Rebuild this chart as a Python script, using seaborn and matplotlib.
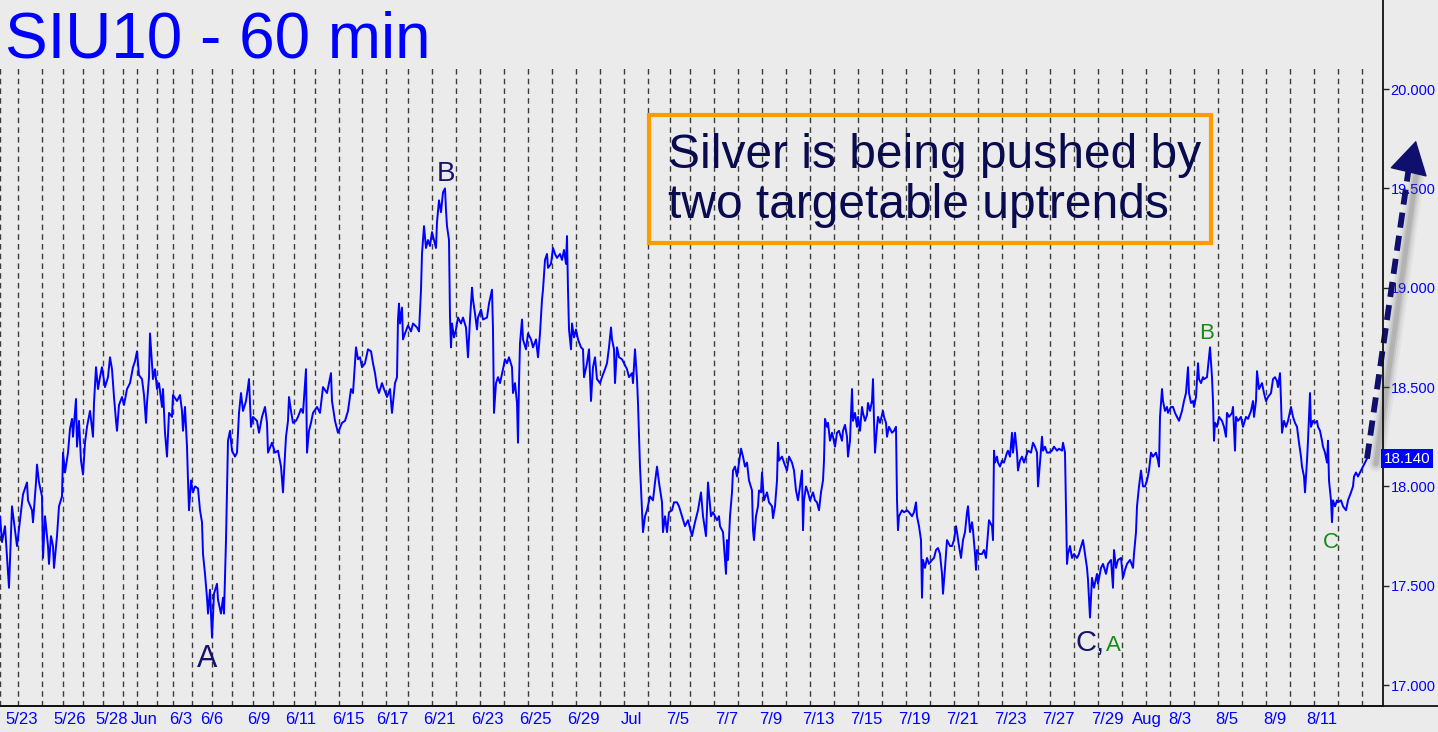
import numpy as np
import pandas as pd
import matplotlib
matplotlib.use("Agg")
import matplotlib.pyplot as plt
import matplotlib.transforms as mtransforms
from matplotlib.lines import Line2D
from matplotlib.patches import Rectangle
import seaborn as sns

# hourly bars: (bar slot on the time axis, price)
bars_may_jun = [(0,17.85),(2,17.72),(5,17.80),(9,17.49),(12,17.90),(17,17.70),(20,17.83),(23,17.96),(27,18.02),(28,17.93),
    (32,17.88),(33,17.82),(36,18.02),(37,18.11),(39,18.02),(42,17.95),(43,17.64),(45,17.85),(48,17.70),(49,17.61),
    (51,17.75),(53,17.70),(54,17.59),(57,17.75),(59,17.90),(62,17.95),(63,18.17),(65,18.07),(68,18.17),(70,18.29),
    (72,18.34),(73,18.25),(76,18.44),(77,18.20),(79,18.33),(81,18.13),(83,18.06),(85,18.22),(87,18.30),(90,18.38),
    (93,18.25),(94,18.42),(96,18.60),(98,18.49),(100,18.55),(102,18.60),(105,18.50),(108,18.55),(110,18.65),(112,18.59),
    (114,18.45),(116,18.33),(117,18.28),(119,18.41),(122,18.45),(124,18.41),(127,18.49),(130,18.52),(133,18.60),(135,18.63),
    (137,18.68),(139,18.56),(142,18.54),(144,18.46),(146,18.32),(147,18.42),(149,18.55),(150,18.77),(152,18.62),(153,18.54),
    (155,18.59),(157,18.49),(159,18.52),(162,18.40),(163,18.49),(165,18.27),(167,18.15),(169,18.37),(172,18.35),(173,18.46),
    (177,18.43),(180,18.46),(182,18.38),(183,18.28),(185,18.40),(187,18.20),(188,18.03),(189,17.88),(191,18.03),(193,17.97),
    (195,18.00),(198,17.99),(200,17.88),(202,17.82),(203,17.66),(205,17.56),(207,17.44),(208,17.36),(210,17.48),(212,17.24),
    (214,17.46),(217,17.51),(218,17.43),(221,17.36),(223,17.44),(224,17.36),(226,17.73),(227,17.98),(228,18.23),(230,18.28),
    (232,18.18),(235,18.15),(237,18.17),(239,18.37),(241,18.47),(243,18.38),(246,18.43),(248,18.50),(249,18.54),(251,18.30),
    (253,18.35),(257,18.33),(259,18.27),(262,18.35),(265,18.40),(267,18.32),(268,18.17),(272,18.22),(275,18.17),(278,18.18),
    (281,18.10),(283,17.97),(284,18.07),(286,18.25),(288,18.33),(289,18.45),(291,18.38),(293,18.32),(296,18.33),(298,18.35),
    (301,18.39),(303,18.37),(306,18.59),(307,18.17),(309,18.28),(311,18.32),(313,18.37),(317,18.40),(320,18.37),(323,18.50),
    (327,18.47),(331,18.57),(332,18.43),(335,18.33),(338,18.27),(342,18.32),(345,18.33),(348,18.38),(351,18.49),(353,18.47),
    (356,18.70),(358,18.64),(360,18.65)]

bars_jun_jul = [(362,18.60),(365,18.62),(368,18.69),(371,18.68),(373,18.62),(375,18.57),(377,18.50),(379,18.47),(382,18.52),
    (384,18.49),(387,18.45),(390,18.49),(392,18.37),(395,18.52),(397,18.55),(398,18.84),(399,18.92),(400,18.82),(402,18.90),
    (403,18.74),(405,18.77),(408,18.81),(411,18.78),(413,18.82),(417,18.80),(419,18.78),(421,18.99),(422,19.17),(424,19.31),
    (426,19.20),(428,19.24),(430,19.21),(432,19.28),(433,19.26),(436,19.20),(437,19.33),(439,19.44),(441,19.38),(443,19.48),
    (445,19.50),(446,19.39),(447,19.31),(449,19.24),(450,18.85),(451,18.70),(452,18.82),(454,18.75),(456,18.79),(458,18.85),
    (461,18.82),(463,18.85),(466,18.80),(468,18.65),(470,18.84),(472,19.00),(473,18.94),(475,18.87),(477,18.79),(478,18.85),
    (481,18.89),(483,18.84),(487,18.85),(489,18.92),(492,18.99),(493,18.79),(494,18.37),(496,18.52),(498,18.55),(500,18.52),
    (503,18.59),(505,18.64),(507,18.62),(509,18.65),(512,18.60),(513,18.47),(515,18.52),(517,18.42),(518,18.22),(519,18.52),
    (520,18.72),(522,18.84),(523,18.74),(526,18.69),(528,18.77),(531,18.74),(533,18.70),(536,18.74),(538,18.65),(540,18.77),
    (542,18.94),(543,18.99),(545,19.14),(547,19.17),(548,19.10),(551,19.12),(553,19.20),(555,19.17),(557,19.15),(560,19.17),
    (562,19.14),(564,19.19),(566,19.12),(567,19.26),(568,18.99),(569,18.79),(571,18.69),(572,18.82),(574,18.75),(576,18.79),
    (578,18.74),(581,18.70),(583,18.69),(584,18.55),(587,18.62),(589,18.69),(591,18.43),(593,18.60),(595,18.65),(597,18.54),
    (600,18.52),(602,18.55),(605,18.59),(607,18.62),(609,18.70),(611,18.80),(612,18.74),(614,18.69),(615,18.52),(617,18.70),
    (619,18.65),(622,18.64),(624,18.62),(627,18.59),(629,18.55),(632,18.57),(633,18.52),(635,18.69),(637,18.54),(638,18.42),
    (640,18.10),(642,17.88),(643,17.77),(645,17.85),(647,17.88),(650,17.95),(653,17.93),(655,18.02),(657,18.10),(659,18.02),
    (662,17.92),(663,17.77),(665,17.85),(667,17.77),(669,17.87),(672,17.88),(674,17.92),(677,17.92),(679,17.90),(682,17.85),
    (685,17.80),(688,17.83),(692,17.75),(695,17.82),(698,17.88),(701,17.97),(703,17.85),(706,17.75),(708,18.02),(711,17.85),
    (713,17.87),(717,17.83),(719,17.85)]

bars_jul = [(720,17.80),(723,17.77),(725,17.63),(726,17.56),(727,17.73),(728,17.63),(730,17.85),(732,17.97),(733,18.08),
    (735,18.10),(737,18.05),(739,18.12),(741,18.19),(743,18.15),(745,18.10),(747,18.12),(749,18.03),(752,17.98),(753,17.78),
    (754,17.73),(756,17.85),(758,17.90),(759,17.98),(761,17.97),(762,18.07),(764,17.93),(767,17.97),(769,17.92),(772,17.90),
    (773,17.84),(775,17.90),(777,18.03),(778,18.22),(779,18.13),(782,18.15),(784,18.12),(787,18.08),(789,18.15),(792,18.12),
    (794,18.08),(796,17.98),(798,17.93),(800,18.00),(802,18.08),(803,17.78),(804,17.93),(806,18.00),(808,17.97),(810,17.93),
    (813,17.97),(815,17.93),(817,17.92),(819,17.88),(821,17.97),(823,18.03),(824,18.13),(825,18.34),(827,18.30),(828,18.32),
    (830,18.23),(832,18.27),(833,18.25),(835,18.20),(837,18.27),(839,18.28),(842,18.23),(843,18.28),(845,18.31),(847,18.25),
    (848,18.15),(850,18.23),(852,18.49),(853,18.33),(855,18.37),(857,18.30),(858,18.35),(860,18.28),(862,18.40),(863,18.37),
    (865,18.33),(867,18.36),(868,18.42),(870,18.38),(872,18.43),(873,18.54),(874,18.33),(875,18.17),(877,18.30),(878,18.35),
    (880,18.32),(883,18.38),(884,18.35),(886,18.32),(887,18.25),(889,18.30),(892,18.27),(894,18.28),(896,18.30),(897,17.93),
    (898,17.78),(899,17.85),(902,17.88),(904,17.87),(907,17.88),(909,17.87),(912,17.85),(914,17.87),(916,17.92),(917,17.85),
    (919,17.80),(921,17.73),(922,17.44),(923,17.63),(925,17.59),(927,17.64),(929,17.61),(932,17.63),(934,17.64),(936,17.68),
    (938,17.69),(940,17.66),(942,17.56),(943,17.46),(945,17.59),(947,17.73),(948,17.72),(950,17.70),(952,17.70),(954,17.73),
    (956,17.80),(957,17.77),(959,17.70),(961,17.64),(963,17.73),(965,17.77),(967,17.87),(968,17.90),(970,17.77),(972,17.82),
    (973,17.78),(975,17.66),(976,17.58),(977,17.68),(979,17.66),(982,17.66),(984,17.68),(986,17.64),(988,17.77),(989,17.83),
    (992,17.80),(993,17.73),(994,18.18),(995,18.12),(997,18.15),(998,18.12),(1000,18.10),(1002,18.13),(1004,18.12),(1007,18.17),
    (1008,18.18),(1010,18.15),(1012,18.27),(1013,18.17),(1015,18.27),(1017,18.17),(1018,18.08),(1020,18.13),(1022,18.15),
    (1024,18.12),(1026,18.15),(1028,18.18),(1031,18.17),(1033,18.22),(1035,18.20),(1037,18.17),(1038,18.00),(1040,18.12),
    (1042,18.25),(1043,18.18),(1045,18.20),(1047,18.17),(1049,18.17),(1052,18.18),(1054,18.20),(1057,18.18),(1059,18.19),
    (1062,18.18),(1063,18.22),(1065,18.17),(1066,17.90),(1067,17.61),(1068,17.66),(1070,17.70),(1072,17.64),(1074,17.66),
    (1077,17.64),(1079,17.66)]

bars_jul_aug = [(1080,17.68),(1083,17.73),(1085,17.66),(1087,17.59),(1088,17.53),(1090,17.34),(1092,17.54),(1094,17.49),
    (1097,17.56),(1098,17.51),(1101,17.59),(1103,17.61),(1106,17.56),(1108,17.61),(1111,17.63),(1113,17.49),(1114,17.68),
    (1116,17.59),(1118,17.63),(1121,17.64),(1123,17.54),(1125,17.58),(1127,17.61),(1130,17.63),(1133,17.59),(1134,17.66),
    (1136,17.77),(1137,17.90),(1139,18.00),(1141,18.08),(1143,18.00),(1145,18.00),(1147,18.03),(1149,18.08),(1151,18.17),
    (1153,18.15),(1156,18.17),(1158,18.13),(1159,18.10),(1160,18.35),(1162,18.49),(1163,18.43),(1165,18.38),(1167,18.40),
    (1168,18.37),(1171,18.40),(1173,18.40),(1175,18.37),(1177,18.35),(1179,18.33),(1182,18.38),(1184,18.43),(1186,18.47),
    (1188,18.60),(1189,18.47),(1191,18.42),(1193,18.43),(1194,18.40),(1196,18.45),(1198,18.62),(1199,18.54),(1201,18.52),
    (1203,18.55),(1204,18.54),(1207,18.55),(1208,18.60),(1210,18.70),(1212,18.55),(1213,18.43),(1214,18.23),(1215,18.32),
    (1217,18.30),(1219,18.35),(1222,18.33),(1224,18.30),(1226,18.25),(1227,18.37),(1229,18.35),(1232,18.37),(1233,18.40),
    (1235,18.18),(1236,18.35),(1238,18.33),(1241,18.35),(1243,18.30),(1246,18.35),(1248,18.34),(1251,18.38),(1253,18.43),
    (1254,18.35),(1256,18.43),(1257,18.58),(1259,18.49),(1262,18.52),(1264,18.47),(1266,18.43),(1268,18.45),(1271,18.47),
    (1273,18.54),(1275,18.55),(1277,18.53),(1278,18.50),(1280,18.57),(1281,18.43),(1282,18.27),(1284,18.33),(1286,18.30),
    (1288,18.33),(1291,18.40),(1293,18.35),(1295,18.32),(1297,18.30),(1299,18.22),(1301,18.15),(1302,18.10),(1304,18.05),
    (1305,17.97),(1307,18.13),(1308,18.23),(1310,18.47),(1311,18.30),(1313,18.33),(1315,18.32),(1317,18.33),(1318,18.30),
    (1320,18.28),(1322,18.23),(1323,18.20),(1325,18.17),(1327,18.12),(1328,18.23),(1329,18.03),(1331,17.93),(1332,17.82),
    (1333,17.93),(1335,17.90),(1337,17.93),(1338,17.92),(1341,17.93),(1343,17.90),(1346,17.88),(1348,17.93),(1351,17.97),
    (1353,18.00),(1354,18.05),(1356,18.07),(1358,18.05),(1361,18.08),(1363,18.10),(1365,18.12),(1367,18.14)]

# session separators and date axis
day_lines = [0, 18, 42, 63, 83, 103, 123, 137, 157, 173, 192, 212, 232, 253, 273, 294, 315, 339, 362, 386, 408, 432,
             456, 480, 504, 528, 552, 576, 600, 624, 648, 670, 690, 714] + list(range(738, 1363, 24))
tick_slots = [2, 47, 87, 128, 173, 237, 279, 323, 362, 415, 463, 511, 559, 607, 655, 697, 746, 793, 842, 890,
              938, 986, 1033, 1082, 1130, 1153, 1202, 1249, 1297, 1346]
date_labels = ["5/23", "5/26", "5/28", "Jun", "6/3", "6/6", "6/9", "6/11", "6/15", "6/17", "6/21", "6/23", "6/25",
               "6/29", "Jul", "7/5", "7/7", "7/9", "7/13", "7/15", "7/19", "7/21", "7/23", "7/27", "7/29", "Aug",
               "8/3", "8/5", "8/9", "8/11"]
date_slots = [22, 70, 112, 144, 181, 212, 259, 301, 348, 392, 439, 487, 535, 583, 631, 678, 727, 771, 818, 866,
              914, 962, 1010, 1058, 1107, 1147, 1180, 1227, 1275, 1322]
price_ticks = [17.0, 17.5, 18.0, 18.5, 19.0, 19.5, 20.0]
last_price = 18.140
target_price = 19.74

# wave counts: (text, slot, price, colour, size)
wave_labels = [("A", 207, 17.13, "#14146e", 22), ("B", 446, 19.57, "#14146e", 20),
               ("C,", 1090, 17.21, "#14146e", 21), ("A", 1113, 17.20, "#178a17", 16),
               ("B", 1207, 18.77, "#178a17", 16), ("C", 1331, 17.72, "#178a17", 16)]

bg = "#ebebeb"
sns.set_theme(style="white", rc={"axes.facecolor": bg, "figure.facecolor": bg})
plt.rcParams["font.family"] = ["Liberation Sans", "DejaVu Sans"]

df = pd.DataFrame(bars_may_jun + bars_jun_jul + bars_jul + bars_jul_aug, columns=["slot", "price"])

W, H = 1438, 732
fig = plt.figure(figsize=(W / 100, H / 100), dpi=100)
ax = fig.add_axes([0, 26 / H, 1383 / W, 1 - 26 / H])
ymin, ymax = 16.895, 20.448
ax.set_xlim(0, 1383)
ax.set_ylim(ymin, ymax)

ax.vlines(day_lines, ymin, 20.106, colors="#3c3c3c", linestyles=(0, (4, 3)), linewidth=1)

sns.lineplot(data=df, x="slot", y="price", ax=ax, color="#0000ff", linewidth=1.4,
             estimator=None, sort=False, legend=False)

# projected move arrow with a soft shadow
navy = "#0f0f6e"
x0 = df["slot"].iloc[-1]
shadow = ax.transData + mtransforms.ScaledTranslation(7 / 100, -5 / 100, fig.dpi_scale_trans)
for w, a in [(12, 0.06), (9, 0.08), (6, 0.12), (3.5, 0.16)]:
    ax.plot([x0 + 2, 1410], [last_price, target_price - 0.12], color="#555555", alpha=a, linewidth=w,
            transform=shadow, clip_on=False, solid_capstyle="round")
ax.plot([x0, 1409], [last_price, target_price - 0.13], color=navy, linewidth=4.2,
        linestyle=(0, (2.6, 1.4)), clip_on=False)
ax.annotate("", xy=(1416, target_price), xytext=(1408, target_price - 0.17), annotation_clip=False,
            arrowprops=dict(arrowstyle="-|>,head_length=0.55,head_width=0.32", mutation_scale=40,
                            color=navy, lw=1, shrinkA=0, shrinkB=0))

for txt, sx, sy, col, fs in wave_labels:
    ax.text(sx, sy, txt, color=col, fontsize=fs, ha="center", va="center")

# axes styling
ax.yaxis.tick_right()
ax.set_yticks(price_ticks)
ax.set_yticklabels([f"{p:.3f}" for p in price_ticks])
ax.tick_params(axis="y", which="major", length=4, width=1, color="#222222", labelcolor="#0000ff",
               labelsize=10.5, pad=1.5, direction="out")
ax.set_xticks(tick_slots)
ax.set_xticklabels([])
ax.set_xticks(date_slots, minor=True)
ax.set_xticklabels(date_labels, minor=True)
ax.tick_params(axis="x", which="major", length=8, width=1, color="#222222", direction="out")
ax.tick_params(axis="x", which="minor", length=0, labelcolor="#0000ff", labelsize=12, pad=4.5)
ax.set_xlabel("")
ax.set_ylabel("")
for s in ["top", "left"]:
    ax.spines[s].set_visible(False)
for s in ["right", "bottom"]:
    ax.spines[s].set_color("#111111")
    ax.spines[s].set_linewidth(1.3)
fig.add_artist(Line2D([0, 1], [26 / H, 26 / H], color="#111111", linewidth=1.3))

trans = mtransforms.blended_transform_factory(fig.transFigure, ax.transData)
ax.text(1407 / W, last_price, f"{last_price:.3f}", transform=trans, ha="center", va="center", color="white",
        fontsize=11, bbox=dict(boxstyle="square,pad=0.15", fc="#0000ff", ec="none"))

fig.text(5 / W, 1 - 57 / H, "SIU10 - 60 min", color="#0000ff", fontsize=46, va="baseline", ha="left")

fig.add_artist(Rectangle((649 / W, 1 - 243 / H), 562 / W, 128 / H, transform=fig.transFigure,
                         fill=False, edgecolor="#ff9a00", linewidth=3))
fig.text(668 / W, 1 - 168 / H, "Silver is being pushed by", color="#0a0a4e", fontsize=34.5, va="baseline")
fig.text(668 / W, 1 - 218 / H, "two targetable uptrends", color="#0a0a4e", fontsize=34.5, va="baseline")

fig.savefig("out.png", dpi=100, facecolor=bg)
